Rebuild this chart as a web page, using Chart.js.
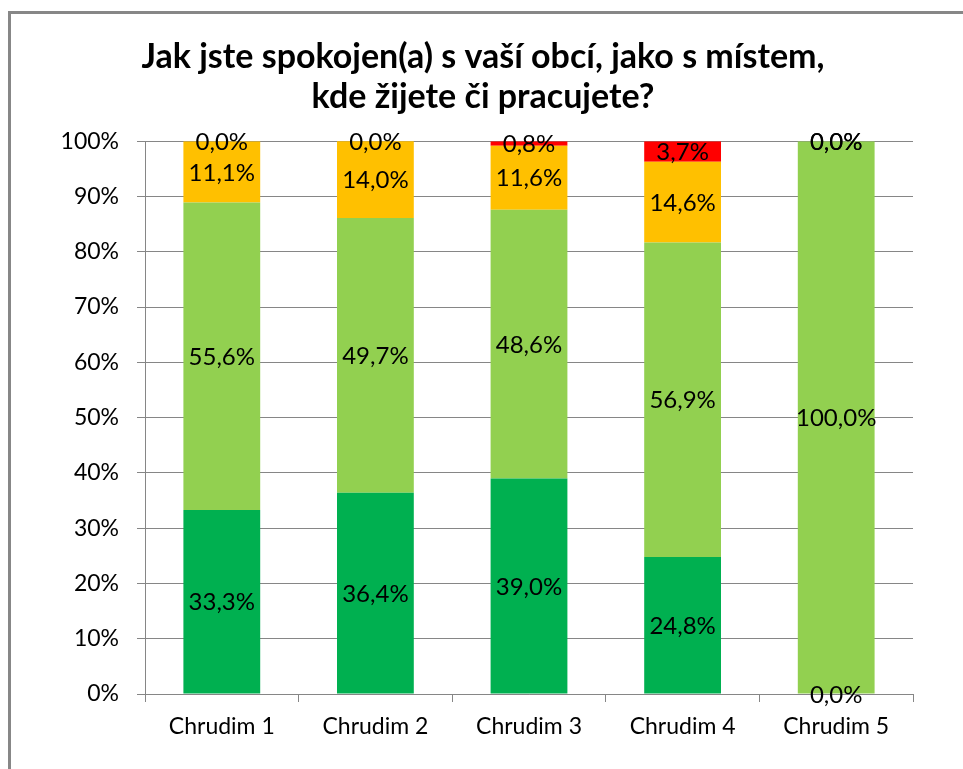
<!DOCTYPE html>
<html>
<head>
<meta charset="utf-8">
<script src="https://cdn.jsdelivr.net/npm/chart.js@4/dist/chart.umd.min.js"></script>
<style>
  html, body { margin: 0; padding: 0; background: #fff; overflow: hidden; }
  #frame { position: absolute; left: 8px; top: 11px; width: 2000px; height: 2000px;
           border-top: 3px solid #878787; border-left: 3px solid #878787; }
  #wrap { position: absolute; left: 0; top: 0; width: 963px; height: 769px; }
</style>
</head>
<body>
<div id="frame"></div>
<div id="wrap"><canvas id="spokojenost"></canvas></div>
<script>
const categories = ['Chrudim 1', 'Chrudim 2', 'Chrudim 3', 'Chrudim 4', 'Chrudim 5'];
const velmiSpokojen = [33.3, 36.4, 39.0, 24.8, 0.0];
const spisSpokojen = [55.6, 49.7, 48.6, 56.9, 100.0];
const spisNespokojen = [11.1, 14.0, 11.6, 14.6, 0.0];
const velmiNespokojen = [0.0, 0.0, 0.8, 3.7, 0.0];
const yTicks = [0, 10, 20, 30, 40, 50, 60, 70, 80, 90, 100];

const FONT = 'Lato, "Open Sans", sans-serif';
const GRID = '#868686';

// popisky hodnot uprostřed segmentů
const valueLabels = {
    id: 'valueLabels',
    afterDatasetsDraw(chart) {
        const ctx = chart.ctx;
        ctx.save();
        ctx.font = '24px ' + FONT;
        ctx.fillStyle = '#000';
        ctx.textAlign = 'center';
        ctx.textBaseline = 'middle';
        chart.data.datasets.forEach((ds, i) => {
            const meta = chart.getDatasetMeta(i);
            meta.data.forEach((bar, j) => {
                const v = ds.data[j];
                const y = Math.max((bar.y + bar.base) / 2, chart.chartArea.top);
                ctx.fillText(v.toFixed(1).replace('.', ',') + '%', bar.x, y + 1);
            });
        });
        ctx.restore();
    }
};

const ctx = document.getElementById('spokojenost').getContext('2d');
new Chart(ctx, {
    type: 'bar',
    data: {
        labels: categories,
        datasets: [
            { label: 'velmi spokojen', data: velmiSpokojen, backgroundColor: '#00B050' },
            { label: 'spíše spokojen', data: spisSpokojen, backgroundColor: '#92D050' },
            { label: 'spíše nespokojen', data: spisNespokojen, backgroundColor: '#FFC000' },
            { label: 'velmi nespokojen', data: velmiNespokojen, backgroundColor: '#FF0000' }
        ]
    },
    options: {
        responsive: true,
        maintainAspectRatio: false,
        animation: false,
        devicePixelRatio: 1,
        layout: { padding: { left: 53, right: 50, top: 37, bottom: 0 } },
        datasets: {
            bar: { categoryPercentage: 1.0, barPercentage: 0.5, borderWidth: 0 }
        },
        plugins: {
            legend: { display: false },
            tooltip: { enabled: false },
            title: {
                display: true,
                text: ['Jak jste spokojen(a) s vaší obcí, jako s místem,', 'kde žijete či pracujete?'],
                color: '#000',
                font: { family: FONT, size: 34, weight: 'bold', lineHeight: 1.18 },
                padding: { top: 0, bottom: 24 }
            }
        },
        scales: {
            x: {
                stacked: true,
                grid: { display: true, drawOnChartArea: false, drawTicks: true, tickLength: 8, color: GRID, offset: true },
                border: { display: true, color: GRID, width: 1 },
                ticks: { color: '#000', font: { family: FONT, size: 23 }, padding: 11, maxRotation: 0 },
                afterFit: scale => { scale.height = 75; }
            },
            y: {
                stacked: true,
                min: 0,
                max: 100,
                afterBuildTicks: scale => { scale.ticks = yTicks.map(v => ({ value: v })); },
                grid: { color: GRID, lineWidth: 1, tickLength: 8 },
                border: { display: true, color: GRID, width: 1 },
                ticks: {
                    color: '#000',
                    font: { family: FONT, size: 23 },
                    padding: 18,
                    callback: v => v + '%'
                },
                afterFit: scale => { scale.width = 92; }
            }
        }
    },
    plugins: [valueLabels]
});
</script>
</body>
</html>
